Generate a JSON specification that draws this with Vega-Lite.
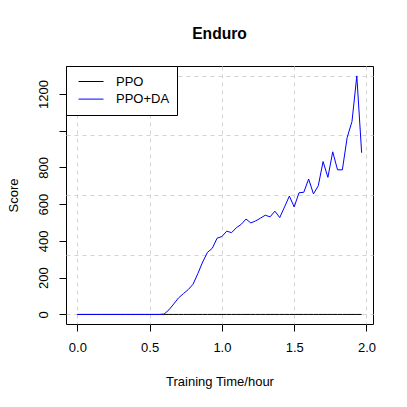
{
  "$schema": "https://vega.github.io/schema/vega-lite/v6.json",
  "width": 307,
  "height": 258,
  "autosize": {"type": "none"},
  "padding": {"left": 66, "top": 66, "right": 34, "bottom": 83},
  "background": "white",
  "title": {"text": "Enduro", "fontSize": 15.6, "fontWeight": "bold", "font": "Liberation Sans", "color": "black", "anchor": "middle", "frame": "group", "baseline": "alphabetic", "offset": 10.7},
  "config": {
    "view": {"stroke": "black", "strokeWidth": 1},
    "axis": {"labelFont": "Liberation Sans", "titleFont": "Liberation Sans", "labelFontSize": 13, "titleFontSize": 13, "titleFontWeight": "normal", "labelColor": "black", "titleColor": "black", "tickColor": "black", "tickWidth": 1, "domain": false},
    "legend": {"labelFont": "Liberation Sans"}
  },
  "data": {"values": [
    {"series": "PPO", "time": 0.0, "score": 0},
    {"series": "PPO", "time": 0.0333, "score": 0},
    {"series": "PPO", "time": 0.0667, "score": 0},
    {"series": "PPO", "time": 0.1, "score": 0},
    {"series": "PPO", "time": 0.1333, "score": 0},
    {"series": "PPO", "time": 0.1667, "score": 0},
    {"series": "PPO", "time": 0.2, "score": 0},
    {"series": "PPO", "time": 0.2333, "score": 0},
    {"series": "PPO", "time": 0.2667, "score": 0},
    {"series": "PPO", "time": 0.3, "score": 0},
    {"series": "PPO", "time": 0.3333, "score": 0},
    {"series": "PPO", "time": 0.3667, "score": 0},
    {"series": "PPO", "time": 0.4, "score": 0},
    {"series": "PPO", "time": 0.4333, "score": 0},
    {"series": "PPO", "time": 0.4667, "score": 0},
    {"series": "PPO", "time": 0.5, "score": 0},
    {"series": "PPO", "time": 0.5333, "score": 0},
    {"series": "PPO", "time": 0.5667, "score": 0},
    {"series": "PPO", "time": 0.6, "score": 0},
    {"series": "PPO", "time": 0.6333, "score": 0},
    {"series": "PPO", "time": 0.6667, "score": 0},
    {"series": "PPO", "time": 0.7, "score": 0},
    {"series": "PPO", "time": 0.7333, "score": 0},
    {"series": "PPO", "time": 0.7667, "score": 0},
    {"series": "PPO", "time": 0.8, "score": 0},
    {"series": "PPO", "time": 0.8333, "score": 0},
    {"series": "PPO", "time": 0.8667, "score": 0},
    {"series": "PPO", "time": 0.9, "score": 0},
    {"series": "PPO", "time": 0.9333, "score": 0},
    {"series": "PPO", "time": 0.9667, "score": 0},
    {"series": "PPO", "time": 1.0, "score": 0},
    {"series": "PPO", "time": 1.0333, "score": 0},
    {"series": "PPO", "time": 1.0667, "score": 0},
    {"series": "PPO", "time": 1.1, "score": 0},
    {"series": "PPO", "time": 1.1333, "score": 0},
    {"series": "PPO", "time": 1.1667, "score": 0},
    {"series": "PPO", "time": 1.2, "score": 0},
    {"series": "PPO", "time": 1.2333, "score": 0},
    {"series": "PPO", "time": 1.2667, "score": 0},
    {"series": "PPO", "time": 1.3, "score": 0},
    {"series": "PPO", "time": 1.3333, "score": 0},
    {"series": "PPO", "time": 1.3667, "score": 0},
    {"series": "PPO", "time": 1.4, "score": 0},
    {"series": "PPO", "time": 1.4333, "score": 0},
    {"series": "PPO", "time": 1.4667, "score": 0},
    {"series": "PPO", "time": 1.5, "score": 0},
    {"series": "PPO", "time": 1.5333, "score": 0},
    {"series": "PPO", "time": 1.5667, "score": 0},
    {"series": "PPO", "time": 1.6, "score": 0},
    {"series": "PPO", "time": 1.6333, "score": 0},
    {"series": "PPO", "time": 1.6667, "score": 0},
    {"series": "PPO", "time": 1.7, "score": 0},
    {"series": "PPO", "time": 1.7333, "score": 0},
    {"series": "PPO", "time": 1.7667, "score": 0},
    {"series": "PPO", "time": 1.8, "score": 0},
    {"series": "PPO", "time": 1.8333, "score": 0},
    {"series": "PPO", "time": 1.8667, "score": 0},
    {"series": "PPO", "time": 1.9, "score": 0},
    {"series": "PPO", "time": 1.9333, "score": 0},
    {"series": "PPO", "time": 1.9667, "score": 0},
    {"series": "PPO+DA", "time": 0.0, "score": 0},
    {"series": "PPO+DA", "time": 0.0333, "score": 0},
    {"series": "PPO+DA", "time": 0.0667, "score": 0},
    {"series": "PPO+DA", "time": 0.1, "score": 0},
    {"series": "PPO+DA", "time": 0.1333, "score": 0},
    {"series": "PPO+DA", "time": 0.1667, "score": 0},
    {"series": "PPO+DA", "time": 0.2, "score": 0},
    {"series": "PPO+DA", "time": 0.2333, "score": 0},
    {"series": "PPO+DA", "time": 0.2667, "score": 0},
    {"series": "PPO+DA", "time": 0.3, "score": 0},
    {"series": "PPO+DA", "time": 0.3333, "score": 0},
    {"series": "PPO+DA", "time": 0.3667, "score": 0},
    {"series": "PPO+DA", "time": 0.4, "score": 0},
    {"series": "PPO+DA", "time": 0.4333, "score": 0},
    {"series": "PPO+DA", "time": 0.4667, "score": 0},
    {"series": "PPO+DA", "time": 0.5, "score": 0},
    {"series": "PPO+DA", "time": 0.5333, "score": 0},
    {"series": "PPO+DA", "time": 0.5667, "score": 0},
    {"series": "PPO+DA", "time": 0.6, "score": 2},
    {"series": "PPO+DA", "time": 0.6333, "score": 25},
    {"series": "PPO+DA", "time": 0.6667, "score": 57},
    {"series": "PPO+DA", "time": 0.7, "score": 90},
    {"series": "PPO+DA", "time": 0.7333, "score": 113},
    {"series": "PPO+DA", "time": 0.7667, "score": 135},
    {"series": "PPO+DA", "time": 0.8, "score": 164},
    {"series": "PPO+DA", "time": 0.8333, "score": 222},
    {"series": "PPO+DA", "time": 0.8667, "score": 285},
    {"series": "PPO+DA", "time": 0.9, "score": 338},
    {"series": "PPO+DA", "time": 0.9333, "score": 360},
    {"series": "PPO+DA", "time": 0.9667, "score": 415},
    {"series": "PPO+DA", "time": 1.0, "score": 424},
    {"series": "PPO+DA", "time": 1.0333, "score": 453},
    {"series": "PPO+DA", "time": 1.0667, "score": 445},
    {"series": "PPO+DA", "time": 1.1, "score": 472},
    {"series": "PPO+DA", "time": 1.1333, "score": 490},
    {"series": "PPO+DA", "time": 1.1667, "score": 519},
    {"series": "PPO+DA", "time": 1.2, "score": 498},
    {"series": "PPO+DA", "time": 1.2333, "score": 509},
    {"series": "PPO+DA", "time": 1.2667, "score": 524},
    {"series": "PPO+DA", "time": 1.3, "score": 540},
    {"series": "PPO+DA", "time": 1.3333, "score": 531},
    {"series": "PPO+DA", "time": 1.3667, "score": 562},
    {"series": "PPO+DA", "time": 1.4, "score": 527},
    {"series": "PPO+DA", "time": 1.4333, "score": 585},
    {"series": "PPO+DA", "time": 1.4667, "score": 644},
    {"series": "PPO+DA", "time": 1.5, "score": 585},
    {"series": "PPO+DA", "time": 1.5333, "score": 662},
    {"series": "PPO+DA", "time": 1.5667, "score": 665},
    {"series": "PPO+DA", "time": 1.6, "score": 737},
    {"series": "PPO+DA", "time": 1.6333, "score": 656},
    {"series": "PPO+DA", "time": 1.6667, "score": 700},
    {"series": "PPO+DA", "time": 1.7, "score": 832},
    {"series": "PPO+DA", "time": 1.7333, "score": 746},
    {"series": "PPO+DA", "time": 1.7667, "score": 885},
    {"series": "PPO+DA", "time": 1.8, "score": 787},
    {"series": "PPO+DA", "time": 1.8333, "score": 787},
    {"series": "PPO+DA", "time": 1.8667, "score": 963},
    {"series": "PPO+DA", "time": 1.9, "score": 1050},
    {"series": "PPO+DA", "time": 1.9333, "score": 1298},
    {"series": "PPO+DA", "time": 1.9667, "score": 880}
  ]},
  "encoding": {
    "x": {"field": "time", "type": "quantitative", "scale": {"domain": [-0.07867, 2.04533], "nice": false, "zero": false},
      "axis": {"title": "Training Time/hour", "values": [0, 0.5, 1, 1.5, 2], "format": ".1f", "tickSize": 7, "labelPadding": 16, "labelBaseline": "middle", "labelFlush": false, "labelOverlap": false, "grid": true, "gridColor": "#d3d3d3", "gridDash": [4, 4], "gridWidth": 1, "titleY": 57, "titleBaseline": "middle"}},
    "color": {"field": "series", "type": "nominal", "scale": {"domain": ["PPO", "PPO+DA"], "range": ["black", "blue"]},
      "legend": {"title": null, "orient": "none", "legendX": 0, "legendY": 0, "strokeColor": "black", "fillColor": "white", "padding": 7, "symbolType": "stroke", "symbolSize": 625, "symbolStrokeWidth": 1, "symbolOffset": 5, "clipHeight": 17, "rowPadding": 0.6, "labelFontSize": 13, "labelOffset": 12, "labelColor": "black", "labelBaseline": "middle"}}
  },
  "layer": [
    {
      "transform": [{"filter": "datum.series == 'PPO'"}],
      "mark": {"type": "line", "strokeWidth": 1},
      "encoding": {
        "y": {"field": "score", "type": "quantitative", "scale": {"domain": [-52, 1352], "nice": false, "zero": false},
          "axis": {"orient": "left", "values": [0, 325, 650, 975, 1300], "labels": false, "ticks": false, "title": null, "grid": true, "gridColor": "#d3d3d3", "gridDash": [4, 4], "gridWidth": 1}}
      }
    },
    {
      "transform": [{"filter": "datum.series == 'PPO+DA'"}],
      "mark": {"type": "line", "strokeWidth": 1},
      "encoding": {
        "y": {"field": "score", "type": "quantitative", "scale": {"domain": [-52, 1352], "nice": false, "zero": false},
          "axis": {"orient": "left", "title": "Score", "values": [0, 200, 400, 600, 800, 1000, 1200], "format": "d", "labelExpr": "datum.value == 1000 ? '' : datum.label", "grid": false, "tickSize": 7, "labelAngle": -90, "labelAlign": "center", "labelBaseline": "middle", "labelPadding": 16, "labelOverlap": false, "labelFlush": false, "titleX": -53, "titleY": 129, "titleAngle": -90, "titleBaseline": "middle", "titleAlign": "center"}}
      }
    }
  ],
  "resolve": {"axis": {"y": "independent"}}
}
